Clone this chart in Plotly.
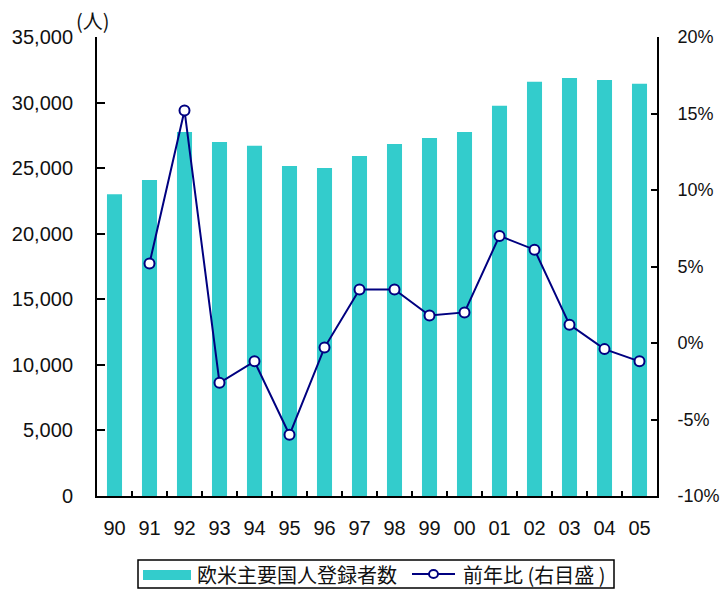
import plotly.graph_objects as go

# 年 (西暦下2桁)
years = ["90", "91", "92", "93", "94", "95", "96", "97",
         "98", "99", "00", "01", "02", "03", "04", "05"]

# 欧米主要国人登録者数 (人)
registrants = [23000, 24100, 27760, 27000, 26700, 25170, 25020, 25930,
               26850, 27300, 27760, 29750, 31580, 31880, 31730, 31430]

# 前年比 (%)
yoy_change = [None, 5.2, 15.2, -2.6, -1.2, -6.0, -0.3, 3.5,
              3.5, 1.8, 2.0, 7.0, 6.1, 1.2, -0.4, -1.2]

left_ticks = [0, 5000, 10000, 15000, 20000, 25000, 30000, 35000]
left_labels = ["0", "5,000", "10,000", "15,000", "20,000", "25,000", "30,000", "35,000"]
right_ticks = [-10, -5, 0, 5, 10, 15, 20]
right_labels = ["-10%", "-5%", "0%", "5%", "10%", "15%", "20%"]

bar_name = "欧米主要国人登録者数"
line_name = "前年比 (右目盛 )"

BAR_COLOR = "#33CCCC"
LINE_COLOR = "#000080"
TEXT_COLOR = "#111111"
SANS = "Liberation Sans, Arial, sans-serif"
CJK_FONT = "Noto Sans CJK JP"

W, H = 720, 589
ML, MR, MT, MB = 97, 63, 37, 93
PW, PH = W - ML - MR, H - MT - MB


def px(xp):
    """Pixel x -> paper fraction."""
    return (xp - ML) / PW


def py(yp):
    """Pixel y -> paper fraction."""
    return (H - MB - yp) / PH


fig = go.Figure()

fig.add_trace(go.Bar(
    x=years, y=registrants, name=bar_name,
    marker=dict(color=BAR_COLOR, line=dict(width=0)),
    yaxis="y", showlegend=False,
))

fig.add_trace(go.Scatter(
    x=years, y=yoy_change, name=line_name,
    mode="lines+markers",
    line=dict(color=LINE_COLOR, width=2),
    marker=dict(symbol="circle", size=10, color="white",
                line=dict(color=LINE_COLOR, width=2)),
    yaxis="y2", showlegend=False,
))

# Legend drawn as a framed box below the plot
legend_y = 574
shapes = [
    dict(type="rect", xref="paper", yref="paper",
         x0=px(138), x1=px(614), y0=py(560), y1=py(588),
         line=dict(color="black", width=1.5), fillcolor="white"),
    dict(type="rect", xref="paper", yref="paper",
         x0=px(143), x1=px(191), y0=py(570), y1=py(580),
         line=dict(width=0), fillcolor=BAR_COLOR),
    dict(type="line", xref="paper", yref="paper",
         x0=px(412), x1=px(455), y0=py(legend_y), y1=py(legend_y),
         line=dict(color=LINE_COLOR, width=2)),
    dict(type="circle", xref="paper", yref="paper",
         xsizemode="pixel", ysizemode="pixel",
         xanchor=px(433.5), yanchor=py(legend_y),
         x0=-4.5, x1=4.5, y0=-4, y1=4,
         line=dict(color=LINE_COLOR, width=2), fillcolor="white"),
]

annotations = [
    dict(text="(人)", xref="paper", yref="paper", x=px(93), y=py(21),
         xanchor="center", yanchor="middle", showarrow=False,
         font=dict(family=CJK_FONT, size=20, color=TEXT_COLOR)),
    dict(text=bar_name, xref="paper", yref="paper", x=px(195), y=py(legend_y),
         xanchor="left", yanchor="middle", showarrow=False,
         font=dict(family=CJK_FONT, size=20, color=TEXT_COLOR)),
    dict(text=line_name, xref="paper", yref="paper", x=px(461), y=py(legend_y),
         xanchor="left", yanchor="middle", showarrow=False,
         font=dict(family=CJK_FONT, size=20, color=TEXT_COLOR)),
]

fig.update_layout(
    width=W, height=H,
    margin=dict(l=ML, r=MR, t=MT, b=MB, autoexpand=False),
    paper_bgcolor="white", plot_bgcolor="white",
    bargap=0.57,
    showlegend=False,
    shapes=shapes,
    annotations=annotations,
    xaxis=dict(
        type="category", showline=True, linecolor="black", linewidth=2,
        ticks="inside", tickson="boundaries", ticklen=5, tickcolor="black",
        tickwidth=1.5,
        tickfont=dict(family=SANS, size=20, color=TEXT_COLOR),
        ticklabelstandoff=13,
        showgrid=False, zeroline=False, automargin=False,
        range=[-0.5, len(years) - 0.5],
    ),
    yaxis=dict(
        range=[0, 35000], tickvals=left_ticks, ticktext=left_labels,
        showline=True, linecolor="black", linewidth=2,
        ticks="inside", ticklen=8, tickcolor="black", tickwidth=1.5,
        tickfont=dict(family=SANS, size=20, color=TEXT_COLOR),
        ticklabelstandoff=18,
        showgrid=False, zeroline=False, automargin=False,
    ),
    yaxis2=dict(
        range=[-10, 20], tickvals=right_ticks, ticktext=right_labels,
        overlaying="y", side="right", anchor="x",
        showline=True, linecolor="black", linewidth=2,
        ticks="inside", ticklen=6, tickcolor="black", tickwidth=1.5,
        tickfont=dict(family=SANS, size=18, color=TEXT_COLOR),
        ticklabelstandoff=15,
        showgrid=False, zeroline=False, automargin=False,
    ),
)

fig.write_html("out.html")
